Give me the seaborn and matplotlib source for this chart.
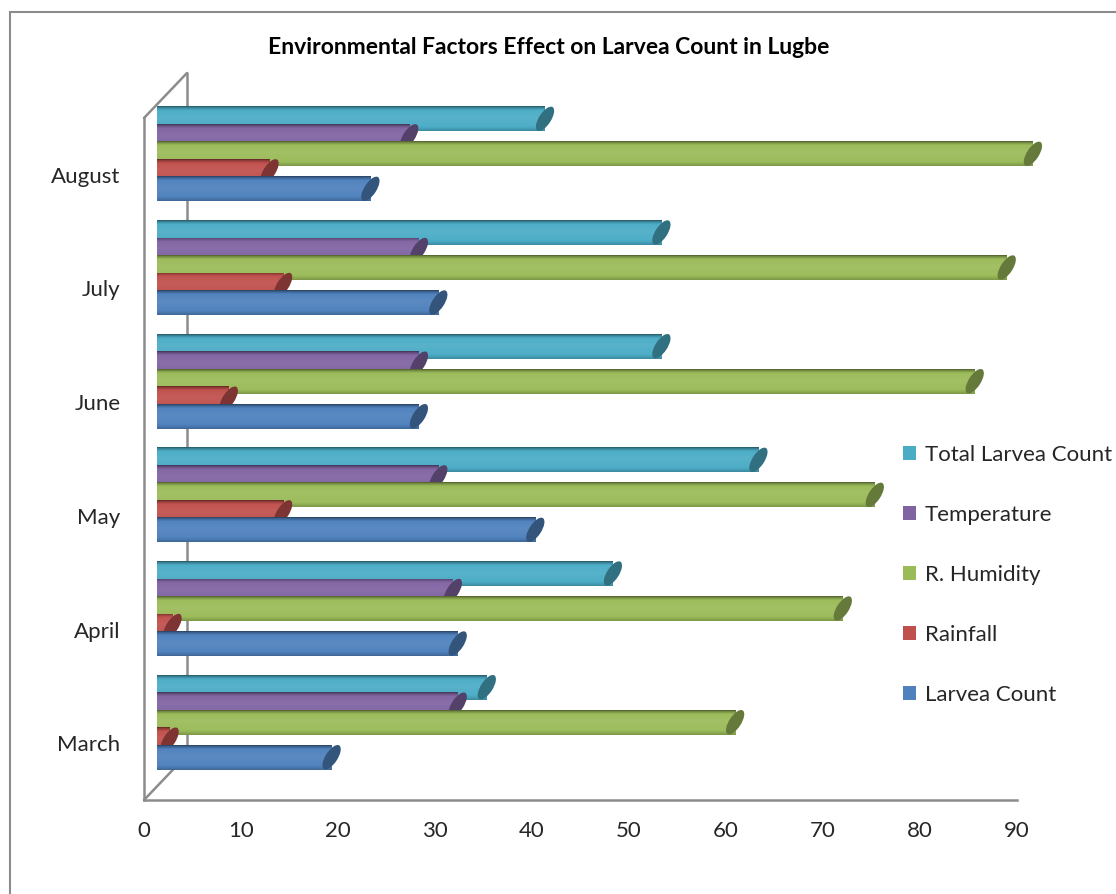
import numpy as np
import pandas as pd
import matplotlib
matplotlib.use("Agg")
import matplotlib.pyplot as plt
import matplotlib.colors as mcolors
import matplotlib.transforms as mtransforms
import seaborn as sns
from matplotlib.patches import Ellipse, Rectangle, Patch
from matplotlib.lines import Line2D

# ---- data -------------------------------------------------------------
months = ["March", "April", "May", "June", "July", "August"]
larvea_count = [18, 31, 39, 27, 29, 22]
rainfall = [1.3, 1.6, 13, 7.4, 13, 11.6]
humidity = [59.6, 70.7, 74, 84.3, 87.6, 90.3]
temperature = [31, 30.5, 29, 27, 27, 26]
total_larvea = [34, 47, 62, 52, 52, 40]

series_names = ["Total Larvea Count", "Temperature", "R. Humidity", "Rainfall", "Larvea Count"]
series_values = [total_larvea, temperature, humidity, rainfall, larvea_count]
series_colors = ["#4BACC6", "#8064A2", "#9BBB59", "#C0504D", "#4F81BD"]
x_ticks = list(range(0, 100, 10))

df = pd.DataFrame(
    [(m, name, v) for name, vals in zip(series_names, series_values) for m, v in zip(months, vals)],
    columns=["month", "series", "value"],
)

# ---- figure ------------------------------------------------------------
sns.set_style("white")
plt.rcParams["font.family"] = ["Lato", "DejaVu Sans"]

W, H = 1116, 894
fig = plt.figure(figsize=(W / 100, H / 100), dpi=100)


def px_rect(left, top, right, bottom):
    return [left / W, 1 - bottom / H, (right - left) / W, (bottom - top) / H]


grid_col = "#8c8c8c"
cat_order = months[::-1]

# front plane carrying the axes, ticks and labels
frame_ax = fig.add_axes(px_rect(144, 118, 1017, 800))
# plane of the cylinders, pushed back in depth
bar_ax = fig.add_axes(px_rect(157, 97, 1030, 779), zorder=3)
bar_ax.patch.set_visible(False)
frame_ax.patch.set_visible(False)

sns.barplot(
    data=df, x="value", y="month", hue="series",
    order=cat_order, hue_order=series_names,
    palette=series_colors, saturation=1, width=0.77,
    legend=False, ax=bar_ax,
)


def shade(color, f):
    rgb = np.array(mcolors.to_rgb(color))
    if f >= 1:
        return rgb + (1 - rgb) * (f - 1)
    return rgb * f


# vertical shading profile of a cylinder
prof_pos = np.array([0.0, 0.05, 0.16, 0.45, 0.82, 0.94, 1.0])
prof_fac = np.array([0.5, 0.74, 1.02, 1.07, 1.02, 0.88, 0.8])
rows = np.linspace(0, 1, 64)
facs = np.interp(rows, prof_pos, prof_fac)

px = 1 / fig.dpi
bars = list(bar_ax.patches)
for i, p in enumerate(bars):
    base = p.get_facecolor()
    w = p.get_width()
    y0, h = p.get_y(), p.get_height()
    cy = y0 + h / 2
    nh = h * 1.42
    p.set_y(cy - nh / 2)
    p.set_height(nh)
    p.set_edgecolor("none")
    z = 2 + i * 0.01
    p.set_zorder(z)
    grad = np.array([shade(base, f) for f in facs])[:, None, :]
    im = bar_ax.imshow(
        grad, aspect="auto", origin="upper",
        extent=(0, w, cy + nh / 2, cy - nh / 2),
        interpolation="bilinear", zorder=z + 0.001,
    )
    im.set_clip_path(p)
    # oblique end cap of the cylinder
    tr = fig.dpi_scale_trans + mtransforms.ScaledTranslation(w, cy, bar_ax.transData)
    bar_ax.add_patch(Ellipse((0, 0), 12 * px, 28 * px, angle=-33,
                             facecolor=shade(base, 0.65), edgecolor="none",
                             transform=tr, zorder=z + 0.002, clip_on=False))

bar_ax.set_xlim(0, 90)
bar_ax.set_ylim(len(months) - 0.5, -0.5)
bar_ax.axis("off")

# ---- front axes ---------------------------------------------------------
frame_ax.set_xlim(0, 90)
frame_ax.set_ylim(len(months) - 0.5, -0.5)
frame_ax.set_xticks(x_ticks)
frame_ax.set_xticklabels([str(t) for t in x_ticks], fontsize=16)
frame_ax.set_yticks(np.arange(-0.5, len(months), 1.0))
frame_ax.set_yticklabels([])
frame_ax.set_yticks(np.arange(len(months)), minor=True)
frame_ax.set_yticklabels(cat_order, minor=True, fontsize=16)
frame_ax.tick_params(axis="y", which="major", length=9, width=1.6, color=grid_col, direction="out")
frame_ax.tick_params(axis="y", which="minor", length=0, pad=17)
frame_ax.tick_params(axis="x", length=7, width=1.6, color=grid_col, direction="out", pad=8)
for s in ["top", "right"]:
    frame_ax.spines[s].set_visible(False)
for s in ["left", "bottom"]:
    frame_ax.spines[s].set_color(grid_col)
    frame_ax.spines[s].set_linewidth(1.8)

# back wall and floor edges of the 3-D box
dx, dy = 43 / 873, 45 / 682
for xs, ys in [((0, dx), (1, 1 + dy)), ((dx, dx), (1 + dy, dy)), ((0, dx), (0, dy))]:
    frame_ax.add_line(Line2D(xs, ys, transform=frame_ax.transAxes, color=grid_col,
                             lw=1.8, clip_on=False, zorder=1))

# ---- title, legend, chart border -----------------------------------------
fig.text(549 / W, 1 - 47 / H, "Environmental Factors Effect on Larvea Count in Lugbe",
         ha="center", va="center", fontsize=16.5, fontweight="bold", color="black")

handles = [Patch(facecolor=c, edgecolor="none") for c in series_colors]
fig.legend(handles, series_names, loc="upper left", bbox_to_anchor=(894 / W, 1 - 436 / H),
           frameon=False, fontsize=16, handlelength=0.6, handleheight=0.6,
           handletextpad=0.4, labelspacing=1.8, borderaxespad=0)

fig.add_artist(Rectangle((10 / W, -0.1), 1.2, 1.1 - 12 / H, transform=fig.transFigure,
                         fill=False, edgecolor=grid_col, lw=1.5))

fig.savefig("out.png", dpi=100)
